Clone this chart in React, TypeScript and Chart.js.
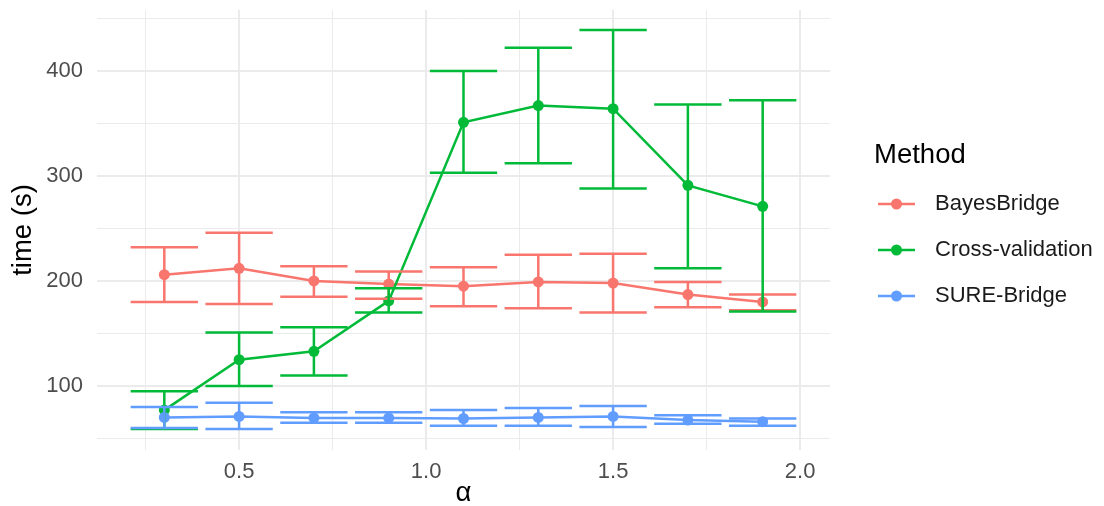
import React, { useEffect, useRef } from "react";
import { Chart, registerables } from "chart.js";

Chart.register(...registerables);

// ---- data ----
const alphas = [0.3, 0.5, 0.7, 0.9, 1.1, 1.3, 1.5, 1.7, 1.9];
const methods = ["BayesBridge", "Cross-validation", "SURE-Bridge"];
const colors = ["#F8766D", "#00BA38", "#619CFF"];

const bayesMean = [206, 212, 200, 197, 195, 199, 198, 187, 180];
const bayesLow = [180, 178, 185, 183, 176, 174, 170, 175, 172];
const bayesHigh = [232, 246, 214, 209, 213, 225, 226, 199, 187];

const cvMean = [77, 125, 133, 181, 351, 367, 364, 291, 271];
const cvLow = [59, 100, 110, 170, 303, 312, 288, 212, 171];
const cvHigh = [95, 151, 156, 193, 400, 422, 439, 368, 372];

const sureMean = [70, 71, 69.5, 69.5, 69, 70, 71, 67.5, 66];
const sureLow = [60, 59, 65, 65, 62, 62, 61, 64, 62];
const sureHigh = [80, 84, 75, 75, 77, 79, 81, 72, 69];

const xTicks = [0.25, 0.5, 0.75, 1.0, 1.25, 1.5, 1.75, 2.0];
const xLabelTicks = [0.5, 1.0, 1.5, 2.0];
const yTicks = [50, 100, 150, 200, 250, 300, 350, 400, 450];
const yLabelTicks = [100, 200, 300, 400];

const errHalfWidth = 0.09;

const FONT = "'Liberation Sans', Arial, sans-serif";

export default function App() {
  const ref = useRef<HTMLCanvasElement | null>(null);

  useEffect(() => {
    document.body.style.margin = "0";
    const canvas = ref.current;
    if (!canvas) return;

    const means = [bayesMean, cvMean, sureMean];
    const lows = [bayesLow, cvLow, sureLow];
    const highs = [bayesHigh, cvHigh, sureHigh];

    const errorBarPlugin = {
      id: "errorBars",
      afterDatasetsDraw(chart: any) {
        const { ctx } = chart;
        const xs = chart.scales.x;
        const ys = chart.scales.y;
        ctx.save();
        ctx.lineWidth = 2.5;
        ctx.lineCap = "butt";
        methods.forEach((_, s) => {
          ctx.strokeStyle = colors[s];
          alphas.forEach((a, i) => {
            const xc = xs.getPixelForValue(a);
            const x0 = xs.getPixelForValue(a - errHalfWidth);
            const x1 = xs.getPixelForValue(a + errHalfWidth);
            const yl = ys.getPixelForValue(lows[s][i]);
            const yh = ys.getPixelForValue(highs[s][i]);
            ctx.beginPath();
            ctx.moveTo(xc, yl);
            ctx.lineTo(xc, yh);
            ctx.moveTo(x0, yl);
            ctx.lineTo(x1, yl);
            ctx.moveTo(x0, yh);
            ctx.lineTo(x1, yh);
            ctx.stroke();
          });
        });
        ctx.restore();
      },
    };

    const legendPlugin = {
      id: "customLegend",
      afterDraw(chart: any) {
        const { ctx } = chart;
        ctx.save();
        ctx.textBaseline = "middle";
        ctx.textAlign = "left";
        ctx.fillStyle = "#000000";
        ctx.font = `27.5px ${FONT}`;
        ctx.fillText("Method", 874, 155);
        const ys = [204, 250, 296];
        methods.forEach((m, i) => {
          const y = ys[i];
          ctx.strokeStyle = colors[i];
          ctx.lineWidth = 2.5;
          ctx.beginPath();
          ctx.moveTo(878, y);
          ctx.lineTo(915, y);
          ctx.stroke();
          ctx.fillStyle = colors[i];
          ctx.beginPath();
          ctx.arc(896.5, y, 5.5, 0, Math.PI * 2);
          ctx.fill();
          ctx.fillStyle = "#1a1a1a";
          ctx.font = `22px ${FONT}`;
          ctx.fillText(m, 935, y);
        });
        ctx.restore();
      },
    };

    const datasets = methods.map((m, s) => ({
      label: m,
      data: alphas.map((a, i) => ({ x: a, y: means[s][i] })),
      borderColor: colors[s],
      backgroundColor: colors[s],
      pointBackgroundColor: colors[s],
      pointBorderWidth: 0,
      pointRadius: 5.5,
      borderWidth: 2.5,
      tension: 0,
      fill: false,
      order: 3 - s,
    }));

    const chart = new Chart(canvas, {
      type: "line",
      data: { datasets },
      options: {
        animation: false,
        responsive: false,
        devicePixelRatio: 1,
        layout: { padding: { left: 0, top: 10, right: 274, bottom: 0 } },
        plugins: {
          legend: { display: false },
          tooltip: { enabled: false },
        },
        scales: {
          x: {
            type: "linear",
            min: 0.12,
            max: 2.08,
            afterBuildTicks(scale: any) {
              scale.ticks = xTicks.map((v) => ({ value: v }));
            },
            afterFit(scale: any) {
              scale.height = 56;
              scale.paddingLeft = 0;
              scale.paddingRight = 0;
            },
            ticks: {
              autoSkip: false,
              maxRotation: 0,
              padding: 9,
              color: "#4d4d4d",
              font: { family: FONT, size: 22 },
              callback: (v: any) =>
                xLabelTicks.some((t) => Math.abs(t - v) < 1e-9) ? Number(v).toFixed(1) : "",
            },
            grid: {
              color: "#ebebeb",
              lineWidth: (c: any) =>
                c.tick && xLabelTicks.some((t) => Math.abs(t - c.tick.value) < 1e-9) ? 2 : 1,
              drawTicks: false,
            },
            border: { display: false },
            title: {
              display: true,
              text: "α",
              color: "#000000",
              font: { family: FONT, size: 27.5 },
              padding: { top: 0, bottom: -4 },
            },
          },
          y: {
            type: "linear",
            min: 39,
            max: 458,
            afterBuildTicks(scale: any) {
              scale.ticks = yTicks.map((v) => ({ value: v }));
            },
            afterFit(scale: any) {
              scale.width = 97;
              scale.paddingTop = 0;
              scale.paddingBottom = 0;
            },
            ticks: {
              autoSkip: false,
              padding: 14,
              color: "#4d4d4d",
              font: { family: FONT, size: 22 },
              callback: (v: any) => (yLabelTicks.includes(Number(v)) ? String(v) : ""),
            },
            grid: {
              color: "#ebebeb",
              lineWidth: (c: any) => (c.tick && yLabelTicks.includes(c.tick.value) ? 2 : 1),
              drawTicks: false,
            },
            border: { display: false },
            title: {
              display: true,
              text: "time (s)",
              color: "#000000",
              font: { family: FONT, size: 27.5 },
              padding: { top: 7, bottom: 0 },
            },
          },
        },
      },
      plugins: [errorBarPlugin, legendPlugin],
    } as any);

    return () => chart.destroy();
  }, []);

  return (
    <div style={{ width: 1104, height: 506 }}>
      <canvas ref={ref} width={1104} height={506} style={{ display: "block" }} />
    </div>
  );
}
